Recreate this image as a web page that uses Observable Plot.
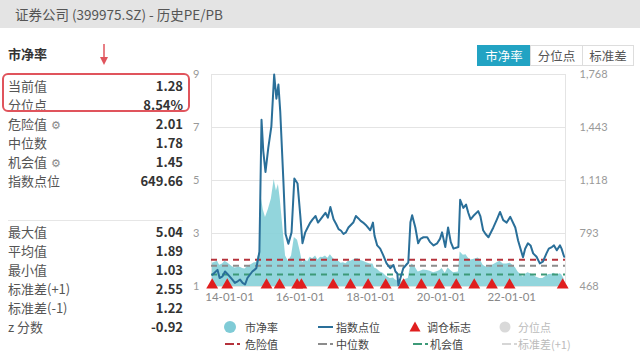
<!DOCTYPE html>
<html><head><meta charset="utf-8">
<script src="https://cdn.jsdelivr.net/npm/d3@7"></script>
<script src="https://cdn.jsdelivr.net/npm/@observablehq/plot@0.6"></script>
<style>
body{margin:0;background:#fff;font-family:"Noto Sans CJK SC","Noto Sans",sans-serif;}
#wrap{position:relative;width:640px;height:352px;overflow:hidden;background:#fff;}
.hdr{position:absolute;left:0;top:0;width:640px;height:28px;background:#e4e4e4;}
.ttl{position:absolute;left:15px;top:4px;font-size:13.5px;color:#555;white-space:nowrap;}
.abs{position:absolute;white-space:nowrap;}
.lab{font-size:13px;color:#555;left:8px;}
.val{font-size:13px;color:#333;font-weight:bold;right:457px;text-align:right;}
.gear{font-size:11px;color:#888;margin-left:4px;}
.btn{position:absolute;top:45px;height:21px;border:1px solid #ddd;font-size:12.5px;line-height:20px;text-align:center;color:#555;box-sizing:border-box;background:#fff;}
.lg{position:absolute;font-size:11px;color:#444;white-space:nowrap;}
#chart{position:absolute;left:0;top:60px;}
</style></head>
<body><div id="wrap">
<div class="hdr"></div>
<div class="ttl">证券公司 (399975.SZ) - 历史PE/PB</div>
<div id="panel"></div>
<div class="abs" style="left:2px;top:73px;width:184px;height:35px;border:2px solid #e0545c;border-radius:6px;"></div>
<svg class="abs" style="left:98px;top:43px" width="12" height="24"><line x1="6" y1="1" x2="6" y2="16" stroke="#e0545c" stroke-width="1.5"/><path d="M2,14 L6,22 L10,14 Z" fill="#e0545c"/></svg>
<div class="abs" style="left:8px;top:220px;width:175px;height:1px;background:#e6e6e6"></div>
<div class="btn" style="left:477px;width:54px;background:#22a3c3;color:#fff;border-color:#22a3c3">市净率</div>
<div class="btn" style="left:530px;width:53px;">分位点</div>
<div class="btn" style="left:582px;width:52px;">标准差</div>
<div id="chart"></div>
<div id="legend"></div>
</div>
<script>
// ---- data ----
const dates = [
 "2013-07-08","2013-08-29","2013-09-20","2013-10-20","2013-11-15","2013-12-10",
 "2014-01-30","2014-02-25","2014-03-26","2014-04-20","2014-05-16","2014-06-10","2014-07-05","2014-08-25","2014-09-15","2014-10-05","2014-11-06","2014-11-28","2014-12-16",
 "2015-01-08","2015-02-06","2015-03-10","2015-04-08","2015-05-01","2015-05-22","2015-06-10","2015-07-13","2015-08-04","2015-09-02","2015-10-05","2015-11-03","2015-12-06",
 "2016-01-04","2016-01-26","2016-02-24","2016-03-20","2016-04-16","2016-05-10","2016-06-10","2016-07-05","2016-07-31","2016-08-25","2016-09-20","2016-10-15","2016-11-10","2016-12-13",
 "2017-01-10","2017-02-03","2017-03-01","2017-03-26","2017-04-20","2017-05-16","2017-06-10","2017-07-05","2017-08-01","2017-08-25","2017-09-20","2017-10-15","2017-11-20","2017-12-28",
 "2018-01-25","2018-02-10","2018-03-10","2018-04-10","2018-05-11","2018-06-15","2018-07-23","2018-08-25","2018-09-15","2018-10-04","2018-10-15","2018-12-05",
 "2019-01-26","2019-02-17","2019-03-07","2019-04-09","2019-05-08","2019-06-01","2019-07-02","2019-08-10","2019-09-09","2019-10-15","2019-11-21","2019-12-20",
 "2020-01-11","2020-02-13","2020-03-13","2020-04-10","2020-05-08","2020-06-28","2020-07-16","2020-08-18","2020-09-15","2020-10-08","2020-11-01","2020-11-29",
 "2021-01-19","2021-02-10","2021-03-11","2021-04-05","2021-05-05","2021-06-25","2021-08-01","2021-09-02","2021-10-05","2021-11-10","2021-12-17",
 "2022-02-07","2022-03-08","2022-04-28","2022-05-20","2022-06-18","2022-07-15","2022-08-11","2022-09-15","2022-10-19","2022-11-20","2022-12-27",
 "2023-01-20","2023-02-21","2023-03-15","2023-04-13","2023-05-16","2023-06-01","2023-06-28"];
const pbValues = [
 1.88,1.95,1.80,1.85,1.95,1.90,
 1.75,1.70,1.72,1.73,1.68,1.66,1.75,1.85,1.90,1.90,2.30,4.30,3.90,
 3.60,3.90,4.30,5.04,4.60,4.85,4.30,3.00,2.15,1.95,2.15,2.85,2.75,
 2.30,1.90,2.00,1.93,2.10,2.05,2.15,2.00,2.10,2.09,2.15,2.07,2.20,2.05,
 1.98,1.95,1.88,1.90,1.86,1.95,1.95,2.00,2.05,2.05,1.98,1.95,1.90,1.85,
 1.85,1.70,1.65,1.55,1.50,1.38,1.30,1.32,1.25,1.22,1.03,1.25,
 1.30,1.75,1.85,1.72,1.55,1.58,1.62,1.60,1.58,1.52,1.56,1.60,
 1.68,1.50,1.70,1.60,1.52,1.55,2.30,2.18,2.20,2.08,2.00,2.02,
 2.08,2.00,1.80,1.75,1.72,1.82,1.90,1.95,1.85,1.85,1.88,
 1.72,1.55,1.36,1.45,1.52,1.48,1.42,1.35,1.30,1.30,1.40,
 1.45,1.46,1.50,1.42,1.48,1.45,1.28];
const indexValues = [
 540,570,520,530,560,545,
 510,490,500,510,490,480,520,560,570,580,680,1490,1300,
 1170,1318,1450,1768,1620,1706,1540,1109,790,730,800,1130,1100,
 900,733,800,830,860,880,900,860,880,900,920,890,955,880,
 850,820,810,790,800,830,845,860,900,887,870,860,840,813,
 860,780,720,700,660,610,580,600,560,548,475,580,
 615,862,905,830,733,760,770,770,740,720,733,760,
 800,710,830,740,700,710,1000,950,970,920,880,900,
 930,900,813,790,770,830,880,925,875,860,895,
 830,750,647,700,733,720,671,650,610,620,671,
 700,710,720,690,720,700,650];
const rebalanceDates = ["2013-07-05","2013-12-08","2015-01-19","2015-06-03","2015-12-02","2016-01-15","2016-12-09","2017-06-06","2017-12-06","2018-06-06","2018-12-09","2019-06-10","2019-12-13","2020-06-06","2020-12-09","2021-06-10","2021-12-10","2023-06-13"];
const levelNames = ["危险值","中位数","机会值"];
const levelValues = [2.01,1.78,1.45];
const levelColors = ["#b5323b","#8c8c8c","#3d9a78"];
const leftTicks = [1,3,5,7,9];
const rightTicks = [468,793,1118,1443,1768];
const xTickDates = ["2014-01-01","2016-01-01","2018-01-01","2020-01-01","2022-01-01"];
const statsTop = [["当前值","1.28",false],["分位点","8.54%",false],["危险值","2.01",true],["中位数","1.78",false],["机会值","1.45",true],["指数点位","649.66",false]];
const statsBottom = [["最大值","5.04"],["平均值","1.89"],["最小值","1.03"],["标准差(+1)","2.55"],["标准差(-1)","1.22"],["z 分数","-0.92"]];

// ---- left panel ----
const panel = document.getElementById("panel");
let html = '<div class="abs" style="left:8px;top:44px;font-size:13px;font-weight:bold;color:#333">市净率</div>';
statsTop.forEach((r,i)=>{
  const y = 76 + i*19;
  html += `<div class="abs lab" style="top:${y}px">${r[0]}${r[2]?'<span class="gear">⚙</span>':''}</div>`;
  html += `<div class="abs val" style="top:${y}px">${r[1]}</div>`;
});
statsBottom.forEach((r,i)=>{
  const y = 222 + i*19;
  html += `<div class="abs lab" style="top:${y}px">${r[0]}</div>`;
  html += `<div class="abs val" style="top:${y}px">${r[1]}</div>`;
});
panel.innerHTML = html;

// ---- chart ----
const parse = d3.utcParse("%Y-%m-%d");
const idxLo = 468, idxStep = 325; // right axis spans 468..1768 over PB 1..9
const toPB = v => 1 + (v - idxLo) / idxStep * 2;
const fromPB = p => Math.round(idxLo + (p - 1) / 2 * idxStep);
const data = dates.map((d,i)=>({date: parse(d), pb: pbValues[i], idx: indexValues[i]}));
const rebal = rebalanceDates.map(d=>({date: parse(d)}));
const levels = levelValues.map((v,i)=>({name: levelNames[i], v, c: levelColors[i]}));

const chart = Plot.plot({
  width: 640, height: 250,
  marginTop: 14, marginBottom: 24, marginLeft: 211, marginRight: 75,
  x: {type: "utc", domain: [parse("2013-06-28"), parse("2023-07-12")]},
  y: {domain: [1, 9]},
  style: {fontFamily: "Lato, 'Open Sans', sans-serif", fontSize: "11px", color: "#999", background: "transparent"},
  marks: [
    Plot.gridY([3,5,7], {stroke: "#e4e4e4", strokeOpacity: 1}),
    Plot.frame({stroke: "#e4e4e4"}),
    Plot.areaY(data, {x: "date", y1: 1, y2: "pb", fill: "#86d0d8", fillOpacity: 0.9}),
    Plot.ruleY(levels, {y: "v", stroke: "c", strokeWidth: 2, strokeDasharray: "6,5"}),
    Plot.lineY(data, {x: "date", y: d => toPB(d.idx), stroke: "#2a6f99", strokeWidth: 2}),
    Plot.dot(rebal, {x: "date", y: 1, symbol: "triangle", r: 4.4, fill: "#e01e1e", dy: -1.5}),
    Plot.axisY(leftTicks, {anchor: "left", tickSize: 0, tickPadding: 12, fill: "#999"}),
    Plot.axisY(rightTicks.map(toPB), {anchor: "right", tickSize: 0, tickPadding: 14, tickFormat: p => d3.format(",")(fromPB(p)), fill: "#999"}),
    Plot.axisX(xTickDates.map(parse), {tickSize: 0, tickPadding: 6, tickFormat: d3.utcFormat("%y-%m-%d"), fill: "#888", letterSpacing: "0.6px", fontSize: 11.5})
  ]
});
document.getElementById("chart").appendChild(chart);

// ---- legend ----
const lg = document.getElementById("legend");
const dashIcon = c => `<svg width="16" height="6"><line x1="0" y1="3" x2="9" y2="3" stroke="${c}" stroke-width="2"/><line x1="12" y1="3" x2="15" y2="3" stroke="${c}" stroke-width="2"/></svg>`;
const legendItems = [
  {x:223, y:320, icon:'<svg width="14" height="14"><circle cx="7" cy="7" r="6" fill="#7fcbd6"/></svg>', tx:245, t:"市净率", c:"#444"},
  {x:318, y:324, icon:'<svg width="15" height="6"><line x1="0" y1="3" x2="15" y2="3" stroke="#2a6f99" stroke-width="2"/></svg>', tx:336, t:"指数点位", c:"#444"},
  {x:409, y:321, icon:'<svg width="12" height="11"><path d="M6,0.5 L11.5,10.5 L0.5,10.5 Z" fill="#e01e1e"/></svg>', tx:427, t:"调仓标志", c:"#444"},
  {x:499, y:321, icon:'<svg width="12" height="12"><circle cx="6" cy="6" r="5.5" fill="#d9d9d9"/></svg>', tx:518, t:"分位点", c:"#bbb"},
  {x:225, y:341, icon:dashIcon("#b5323b"), tx:245, t:"危险值", c:"#444"},
  {x:318, y:341, icon:dashIcon("#8c8c8c"), tx:336, t:"中位数", c:"#444"},
  {x:413, y:341, icon:dashIcon("#3d9a78"), tx:430, t:"机会值", c:"#444"},
  {x:502, y:341, icon:dashIcon("#d6d6d6"), tx:518, t:"标准差(+1)", c:"#bbb"}
];
let lh = "";
legendItems.forEach((it,i)=>{
  const ty = i < 4 ? 319 : 336;
  lh += `<div class="lg" style="left:${it.x}px;top:${it.y}px;line-height:0">${it.icon}</div>`;
  lh += `<div class="lg" style="left:${it.tx}px;top:${ty}px;color:${it.c}">${it.t}</div>`;
});
lg.innerHTML = lh;
</script>
</body></html>
